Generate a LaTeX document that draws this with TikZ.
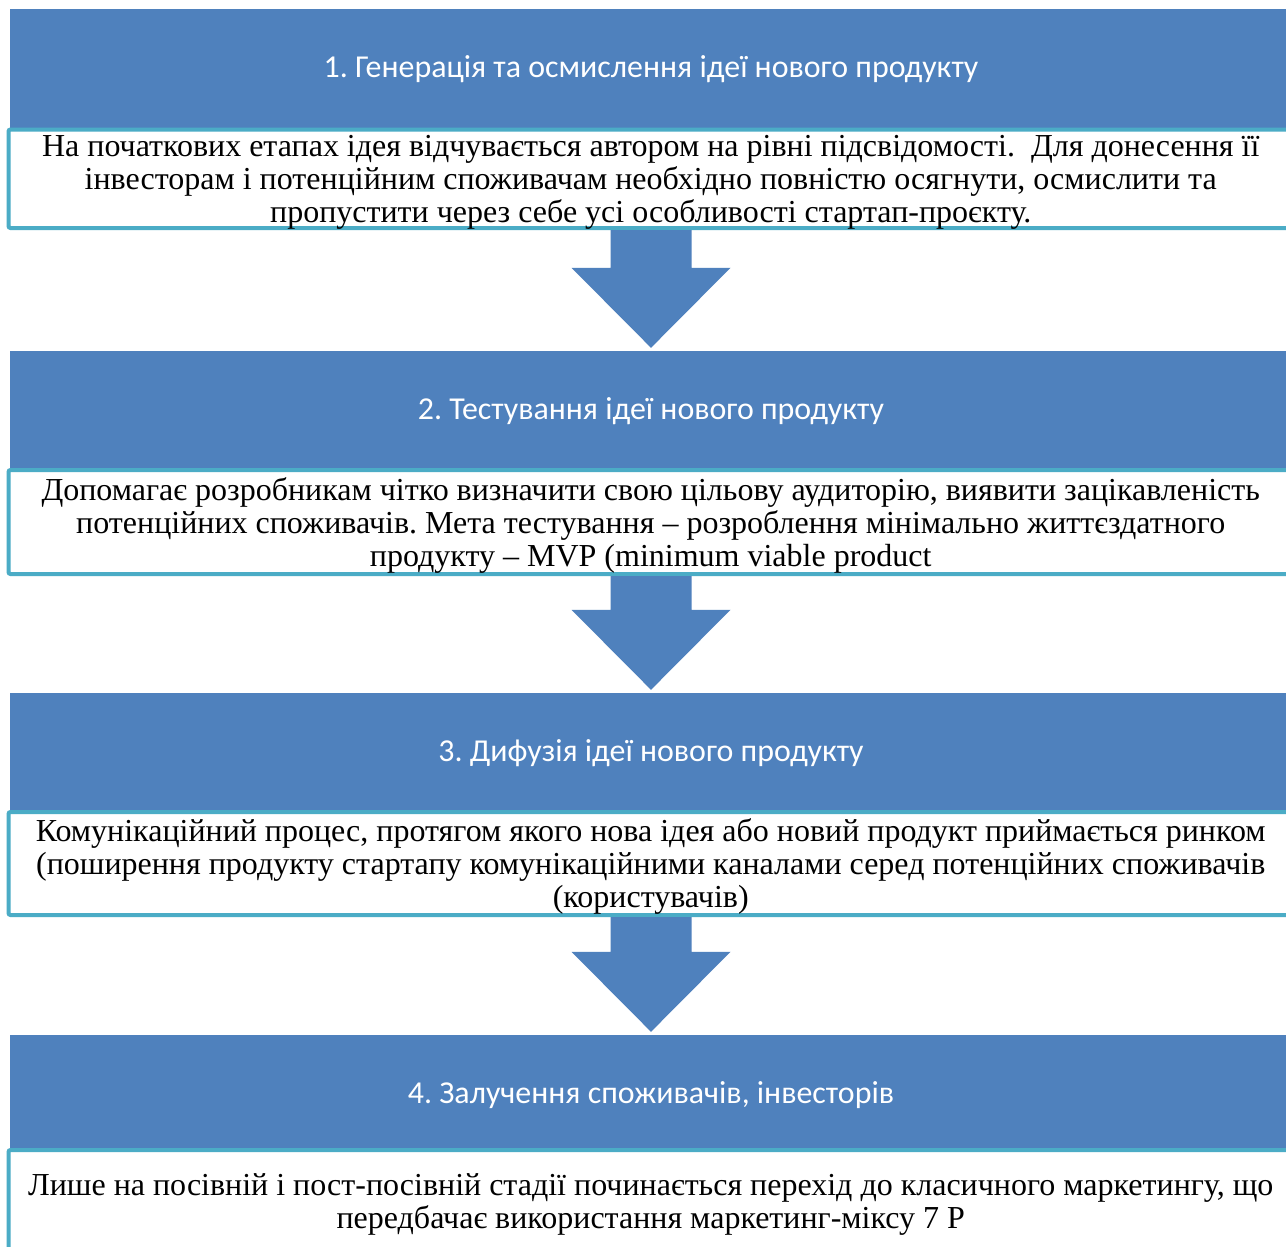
\documentclass[tikz,border=0pt]{standalone}
\usepackage{fontspec}
\setmainfont{Liberation Serif}
\newfontfamily\hdrfont{Carlito}
\usetikzlibrary{calc}
\frenchspacing
\definecolor{hdrblue}{HTML}{4F81BD}
\definecolor{boxteal}{HTML}{4BACC6}
\tikzset{
  hdrbox/.style={rectangle, fill=hdrblue, draw=none, minimum width=1282pt, minimum height=120pt,
    inner sep=0pt, text=white, font=\hdrfont\fontsize{31.9}{36}\selectfont},
  txtbox/.style={rectangle, draw=boxteal, line width=4pt, rounded corners=2pt, fill=white,
    minimum width=1284.5pt, inner sep=0pt, align=center, text depth=0pt,
    font=\fontsize{32}{33}\selectfont},
  blockarrow/.style={fill=hdrblue, draw=none}
}
\newcommand{\downarrowshape}[2]{%
  \path let \p1=(#1.south), \p2=(#2.north) in
    [blockarrow] (651-40.5,\y1) -- (651+40.5,\y1) -- (651+40.5,\y2+83) -- (651+79.5,\y2+83)
    -- (651,\y2+3) -- (651-79.5,\y2+83) -- (651-40.5,\y2+83) -- cycle;%
}
\begin{document}
\begin{tikzpicture}[x=1pt,y=-1pt]
\useasboundingbox (0,0) rectangle (1286,1247);
\clip (0,0) rectangle (1286,1247);
\fill[white] (0,0) rectangle (1286,1247);
% headers
\node[hdrbox] (h1) at (651,69) {1. Генерація та осмислення ідеї нового продукту};
\node[hdrbox] (h2) at (651,411) {2. Тестування ідеї нового продукту};
\node[hdrbox] (h3) at (651,753) {3. Дифузія ідеї нового продукту};
\node[hdrbox] (h4) at (651,1095) {4. Залучення споживачів, інвесторів};
% text boxes
\node[txtbox, minimum height=98.5pt] (t1) at (650.75,178.75) {На початкових етапах ідея відчувається автором на рівні підсвідомості.\ \ Для донесення її\\ інвесторам і потенційним споживачам необхідно повністю осягнути, осмислити та\\ пропустити через себе усі особливості стартап-проєкту.};
\node[txtbox, minimum height=104pt] (t2) at (650.75,522) {Допомагає розробникам чітко визначити свою цільову аудиторію, виявити зацікавленість\\ потенційних споживачів. Мета тестування – розроблення мінімально життєздатного\\ продукту – MVP (minimum viable product};
\node[txtbox, minimum height=103pt] (t3) at (650.75,863.5) {Комунікаційний процес, протягом якого нова ідея або новий продукт приймається ринком\\ (поширення продукту стартапу комунікаційними каналами серед потенційних споживачів\\ (користувачів)};
\node[txtbox, minimum height=103pt] (t4) at (650.75,1201.5) {Лише на посівній і пост-посівній стадії починається перехід до класичного маркетингу, що\\ передбачає використання маркетинг-міксу 7 Р};
% arrows
\downarrowshape{t1}{h2}
\downarrowshape{t2}{h3}
\downarrowshape{t3}{h4}
\end{tikzpicture}
\end{document}
